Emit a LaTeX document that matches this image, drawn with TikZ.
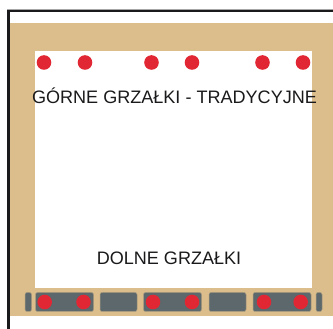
\documentclass[tikz,border=0pt]{standalone}
\usepackage{fontspec}
\setmainfont{Liberation Sans}
\definecolor{tan}{HTML}{DCBD8C}
\definecolor{barc}{HTML}{5C686B}
\definecolor{dotc}{HTML}{E12733}
\definecolor{linec}{HTML}{1A1A1C}
\tikzset{
  heater/.style={circle,fill=dotc,draw=none,minimum size=14.6,inner sep=0pt},
  barbox/.style={fill=barc,draw=tan!60!barc,line width=0.5pt,rounded corners=2pt},
  lbl/.style={inner sep=0pt,text=linec,font=\fontsize{18.05}{22}\selectfont},
}
\begin{document}
\begin{tikzpicture}[x=1pt,y=-1pt]
\useasboundingbox (0,0) rectangle (333,329);
\fill[white] (0,0) rectangle (333,329);
% frame
\fill[tan] (10,23) rectangle (333,316);
\fill[white] (35,51) rectangle (312,288);
\fill[linec] (7,9) rectangle (333,12);
\fill[linec] (7,9) rectangle (10.5,329);
\draw[gray!70,line width=0.4pt] (7,8.8) -- (333,8.8);
% bottom bars
\foreach \a/\b in {25/31.5,35.5/93.5,100/137,143.5/201.5,209/246,253/311,316/322}
  \draw[barbox] (\a,292.5) rectangle (\b,311.5);
% top heaters
\foreach \n/\x in {a/44,b/85,c/151.5,d/192,e/262.5,f/303}
  \node[heater] (t\n) at (\x,62.5) {};
% bottom heaters
\foreach \n/\x in {a/44.7,b/83.5,c/153,d/192,e/264,f/300.7}
  \node[heater] (b\n) at (\x,302) {};
\node[lbl] (top) at (174.5,95.5) {GÓRNE GRZAŁKI - TRADYCYJNE};
\node[lbl] (bot) at (169,258) {DOLNE GRZAŁKI};
\end{tikzpicture}
\end{document}
